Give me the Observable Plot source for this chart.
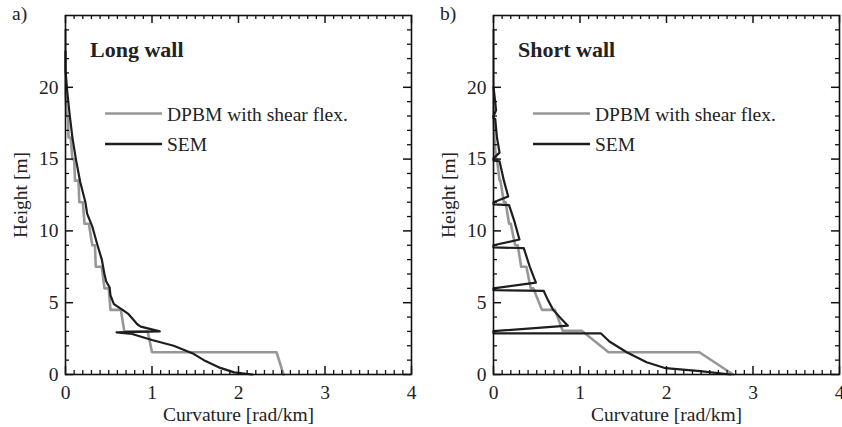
<!DOCTYPE html>
<html><head><meta charset="utf-8">
<script src="https://cdn.jsdelivr.net/npm/d3@7"></script>
<script src="https://cdn.jsdelivr.net/npm/@observablehq/plot@0.6"></script>
<style>
html,body{margin:0;padding:0;background:#fff;}
#wrap{position:relative;width:842px;height:427px;overflow:hidden;}
#wrap svg{position:absolute;top:0;}
</style></head><body><div id="wrap"></div>
<script>
// ---- tick values ----
const curvTicks = [0, 1, 2, 3, 4];
const curvMinor = [0.1,0.2,0.3,0.4,0.5,0.6,0.7,0.8,0.9,1.1,1.2,1.3,1.4,1.5,1.6,1.7,1.8,1.9,2.1,2.2,2.3,2.4,2.5,2.6,2.7,2.8,2.9,3.1,3.2,3.3,3.4,3.5,3.6,3.7,3.8,3.9];
const heightTicks = [0, 5, 10, 15, 20];
const heightMinor = [1,2,3,4,6,7,8,9,11,12,13,14,16,17,18,19,21,22,23,24];

// ---- series labels ----
const seriesNames = ["DPBM with shear flex.", "SEM"];
const panelTitles = ["Long wall", "Short wall"];
const panelTags = ["a)", "b)"];

// ---- a) Long wall ----
const longDpbmCurv   = [2.52,2.44,1.00,0.95,0.68,0.64,0.52,0.50,0.45,0.42,0.35,0.34,0.31,0.27,0.22,0.20,0.16,0.15,0.11,0.10,0.08,0.06,0.035,0.03,0.015,0.0,0.0];
const longDpbmHeight = [0,1.55,1.55,3.0,3.0,4.5,4.5,6.0,6.0,7.5,7.5,9.0,9.0,10.5,10.5,12.0,12.0,13.5,13.5,15.0,15.0,16.5,16.5,18.0,18.0,19.5,24.0];
const longSemCurv    = [2.16,1.95,1.79,1.60,1.48,1.25,1.00,0.77,0.59,1.09,0.87,0.83,0.73,0.66,0.56,0.52,0.51,0.47,0.45,0.42,0.37,0.31,0.25,0.23,0.17,0.12,0.08,0.05,0.02,0.0,0.0];
const longSemHeight  = [0,0.15,0.46,1.0,1.44,2.0,2.4,2.82,2.94,3.0,3.33,3.5,4.2,4.5,4.9,5.5,6.06,6.5,7.0,8.0,9.0,10.3,11.2,12.0,13.4,15.0,16.5,18.0,19.7,21.2,22.5];

// ---- b) Short wall ----
const shortDpbmCurv   = [2.77,2.38,1.33,1.02,0.80,0.71,0.56,0.46,0.43,0.38,0.32,0.28,0.25,0.20,0.18,0.14,0.12,0.08,0.07,0.04,0.03,0.01,0.0,0.0];
const shortDpbmHeight = [0,1.55,1.55,3.05,3.05,4.5,4.5,6.0,6.0,7.5,7.5,9.0,9.0,10.5,10.5,12.0,12.0,13.5,13.5,15.0,15.0,16.5,18.0,24.0];
const shortSemCurv    = [2.74,2.39,1.99,1.77,1.54,1.34,1.24,0,0,0.86,0.78,0.69,0.62,0.58,0,0,0.49,0.42,0.35,0,0,0.30,0.24,0.18,0,0,0.17,0.12,0.07,0,0,0.07,0.04,0.02,0,0,0.03,0.01,0];
const shortSemHeight  = [0,0.23,0.44,0.85,1.55,2.3,2.87,2.87,3.02,3.4,3.9,4.5,5.3,5.83,5.87,6.0,6.4,7.5,8.8,8.85,9.0,9.4,10.7,11.8,11.85,12.0,12.4,13.5,14.85,14.9,15.05,15.45,16.5,17.8,17.85,18.0,18.4,19.5,20.0];

const GRAY = "#979797", BLACK = "#1e1e1e";
const FONT = "Liberation Serif, Times New Roman, serif";

function toRows(xs, ys) { return xs.map((x, i) => ({x, y: ys[i]})); }

function panel(opts) {
  const W = 421, H = 427;
  const mt = 15, mb = 53, ml = opts.ml, mr = opts.mr;
  const innerW = W - ml - mr, innerH = H - mt - mb;
  const major = 8, minor = 4;
  return Plot.plot({
    width: W, height: H,
    marginTop: mt, marginBottom: mb, marginLeft: ml, marginRight: mr,
    style: {fontFamily: FONT, fontSize: "19.5px", color: "#222", background: "transparent", overflow: "visible"},
    x: {domain: [0, 4], label: null},
    y: {domain: [0, 25], label: null},
    marks: [
      Plot.line(toRows(opts.dpbmX, opts.dpbmY), {x: "x", y: "y", stroke: GRAY, strokeWidth: 2.6}),
      Plot.line(toRows(opts.semX, opts.semY), {x: "x", y: "y", stroke: BLACK, strokeWidth: 2.2}),
      // inward ticks: bottom & top
      Plot.tickX(curvTicks, {x: d => d, insetTop: innerH - major, stroke: "#111", strokeWidth: 1.5}),
      Plot.tickX(curvTicks, {x: d => d, insetBottom: innerH - major, stroke: "#111", strokeWidth: 1.5}),
      Plot.tickX(curvMinor, {x: d => d, insetTop: innerH - minor, stroke: "#111", strokeWidth: 1.3}),
      Plot.tickX(curvMinor, {x: d => d, insetBottom: innerH - minor, stroke: "#111", strokeWidth: 1.3}),
      // inward ticks: left & right
      Plot.tickY(heightTicks, {y: d => d, insetRight: innerW - major, stroke: "#111", strokeWidth: 1.5}),
      Plot.tickY(heightTicks, {y: d => d, insetLeft: innerW - major, stroke: "#111", strokeWidth: 1.5}),
      Plot.tickY(heightMinor, {y: d => d, insetRight: innerW - minor, stroke: "#111", strokeWidth: 1.3}),
      Plot.tickY(heightMinor, {y: d => d, insetLeft: innerW - minor, stroke: "#111", strokeWidth: 1.3}),
      Plot.axisX({ticks: curvTicks, tickSize: 0, tickPadding: 11, tickFormat: d => String(d),
                  label: "Curvature [rad/km]", labelAnchor: "center", labelOffset: 46, labelArrow: "none"}),
      Plot.axisY({ticks: heightTicks, tickSize: 0, tickPadding: 7, tickFormat: d => String(d),
                  label: "Height [m]", labelAnchor: "center", labelOffset: 52, labelArrow: "none"}),
      Plot.frame({stroke: "#111", strokeWidth: 1.6})
    ]
  });
}

const wrap = document.getElementById("wrap");
const pa = panel({ml: 65, mr: 10, dpbmX: longDpbmCurv, dpbmY: longDpbmHeight, semX: longSemCurv, semY: longSemHeight});
pa.style.left = "0px";
wrap.appendChild(pa);
const pb = panel({ml: 72, mr: 3, dpbmX: shortDpbmCurv, dpbmY: shortDpbmHeight, semX: shortSemCurv, semY: shortSemHeight});
pb.style.left = "421px";
wrap.appendChild(pb);

// ---- overlay: panel tags, titles, legends ----
const ov = d3.select(wrap).append("svg")
  .attr("width", 842).attr("height", 427)
  .style("left", "0px").style("pointer-events", "none")
  .style("font-family", FONT);
[0, 428].forEach((off, i) => {
  ov.append("text").attr("x", 12 + off).attr("y", 20).attr("font-size", 19.5).attr("fill", "#222").text(panelTags[i]);
  ov.append("text").attr("x", 90 + off).attr("y", 57).attr("font-size", 22).attr("font-weight", "bold").attr("fill", "#222").text(panelTitles[i]);
  ov.append("line").attr("x1", 105 + off).attr("x2", 162 + off).attr("y1", 113.5).attr("y2", 113.5).attr("stroke", GRAY).attr("stroke-width", 2.6);
  ov.append("text").attr("x", 167 + off).attr("y", 120.5).attr("font-size", 19.5).attr("fill", "#222").text(seriesNames[0]);
  ov.append("line").attr("x1", 105 + off).attr("x2", 162 + off).attr("y1", 144).attr("y2", 144).attr("stroke", BLACK).attr("stroke-width", 2.6);
  ov.append("text").attr("x", 167 + off).attr("y", 151).attr("font-size", 19.5).attr("fill", "#222").text(seriesNames[1]);
});
</script></body></html>
